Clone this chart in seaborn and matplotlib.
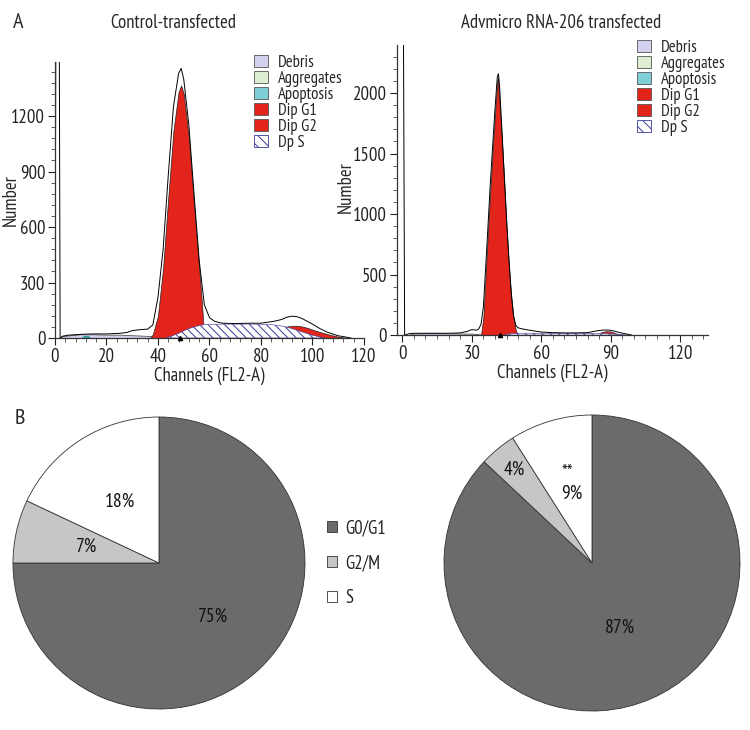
import matplotlib
matplotlib.use("Agg")
import matplotlib.pyplot as plt
import numpy as np
import seaborn as sns
from matplotlib.patches import Patch
from matplotlib.ticker import MultipleLocator

# ---- flow cytometry histograms ----
# control-transfected
ctrl_ch = [0, 1, 2, 3, 5, 10, 15, 20, 25, 28, 30, 33, 36, 38, 40, 42, 44, 46, 48, 49, 50, 52, 54,
           56, 58, 60, 62, 65, 70, 75, 80, 85, 88, 90, 92, 94, 96, 98, 100, 103, 106, 110, 113, 115]
ctrl_total = [0, 5000, 0, 10, 15, 20, 22, 22, 25, 30, 40, 45, 48, 70, 220, 480, 880, 1250, 1430, 1458,
              1400, 1150, 780, 420, 180, 110, 90, 80, 78, 80, 80, 90, 100, 112, 118, 115, 105, 90, 75,
              50, 30, 12, 5, 0]
ctrl_debris_ch = [2, 3, 6, 10, 15, 20, 25, 30, 35, 40, 45, 50]
ctrl_debris = [0, 10, 15, 20, 20, 18, 18, 15, 12, 8, 3, 0]
ctrl_apo_ch = [10, 11, 12, 13, 14]
ctrl_apo = [0, 12, 15, 12, 0]
ctrl_g1_ch = [37, 38, 40, 42, 44, 46, 48, 49, 50, 52, 54, 56, 57, 58]
ctrl_g1 = [0, 20, 120, 380, 760, 1120, 1330, 1366, 1320, 1080, 720, 380, 200, 0]
ctrl_g2_ch = [88, 89.5, 90, 92, 94, 96, 98, 100, 103, 106, 109, 112, 114]
ctrl_g2 = [0, 60, 62, 66, 66, 62, 55, 45, 32, 20, 10, 3, 0]
ctrl_s_ch = [43, 45, 48, 51, 54, 57, 60, 65, 70, 75, 80, 84, 88, 91, 94, 97, 100, 103, 105]
ctrl_s = [0, 8, 25, 45, 60, 70, 74, 75, 75, 75, 74, 72, 65, 55, 42, 28, 15, 5, 0]
ctrl_g1_mean = 48.5

# Advmicro RNA-206 transfected
mir_ch = [0, 1, 3, 5, 10, 15, 20, 25, 28, 30, 32, 33, 34, 35, 36, 37, 38, 39, 40, 41, 41.5, 42, 43,
          44, 45, 46, 47, 48, 49, 50, 52, 55, 60, 65, 70, 75, 80, 84, 86, 88, 90, 92, 94, 96, 98, 99]
mir_total = [5000, 0, 12, 15, 15, 15, 15, 18, 30, 45, 40, 50, 90, 230, 560, 900, 1250, 1560, 1860,
             2130, 2160, 2060, 1700, 1320, 960, 640, 350, 160, 80, 60, 50, 40, 25, 20, 18, 18, 20,
             35, 40, 42, 40, 30, 20, 12, 5, 0]
mir_debris_ch = [3, 4, 10, 20, 30, 34, 38]
mir_debris = [0, 12, 15, 14, 12, 5, 0]
mir_g1_ch = [34, 35, 36, 37, 38, 39, 40, 41, 41.3, 42, 43, 44, 45, 46, 47, 48, 49, 50]
mir_g1 = [0, 150, 500, 860, 1200, 1520, 1820, 2100, 2130, 1920, 1620, 1280, 900, 580, 330, 150, 40, 0]
mir_g2_ch = [84, 86, 88, 90, 92, 94]
mir_g2 = [0, 25, 32, 30, 15, 0]
mir_s_ch = [44, 46, 50, 60, 70, 80, 88, 94, 97]
mir_s = [0, 10, 15, 15, 15, 14, 12, 6, 0]
mir_g1_mean = 42

legend_names = ["Debris", "Aggregates", "Apoptosis", "Dip G1", "Dip G2", "Dp S"]

# ---- pie charts ----
phases = ["G0/G1", "G2/M", "S"]
ctrl_pct = [75, 7, 18]
mir_pct = [87, 4, 9]
pie_colors = ["#6b6b6b", "#c6c6c6", "#ffffff"]

sns.set_theme(style="ticks")
plt.rcParams["font.family"] = ["PT Sans Narrow", "Roboto Condensed", "Fira Sans Condensed",
                               "Archivo Narrow", "Liberation Sans Narrow", "DejaVu Sans"]
plt.rcParams["hatch.linewidth"] = 0.7

RED = "#e3241b"
DEBRIS = "#d2d2ee"
AGGR = "#ddeed2"
APO = "#7fcfd6"
HATCH = "#3a3a9a"

fig = plt.figure(figsize=(7.5, 7.3), dpi=100)


def draw_hist(ax, ch, total, deb_ch, deb, g1_ch, g1, g2_ch, g2, s_ch, s, mean, apo_ch=None, apo=None):
    ax.fill_between(deb_ch, deb, facecolor=DEBRIS, edgecolor="#555555", lw=0.6)
    if apo_ch is not None:
        ax.fill_between(apo_ch, apo, color="#2a9a9a", lw=0)
    ax.fill_between(g1_ch, g1, color=RED, edgecolor="#222222", lw=0.5)
    ax.fill_between(g2_ch, g2, color=RED, edgecolor="#222222", lw=0.5)
    ax.fill_between(s_ch, s, facecolor="white", edgecolor=HATCH, hatch="\\\\\\\\", lw=0.4)
    sns.lineplot(x=ch, y=total, ax=ax, color="black", lw=0.7, estimator=None, sort=False)
    ax.plot([mean], [0], marker="^", color="black", ms=3, clip_on=False, zorder=5)
    sns.despine(ax=ax)
    for sp in ["left", "bottom"]:
        ax.spines[sp].set_color("#333333")
        ax.spines[sp].set_linewidth(0.9)
    ax.tick_params(which="major", length=5, width=0.8, labelsize=13.5, pad=2, colors="#222222")
    ax.tick_params(which="minor", length=3, width=0.6, colors="#444444")
    handles = [
        Patch(facecolor=DEBRIS, edgecolor="#555555", lw=0.6),
        Patch(facecolor=AGGR, edgecolor="#555555", lw=0.6),
        Patch(facecolor=APO, edgecolor="#555555", lw=0.6),
        Patch(facecolor=RED, edgecolor="#555555", lw=0.6),
        Patch(facecolor=RED, edgecolor="#555555", lw=0.6),
        Patch(facecolor="white", edgecolor=HATCH, hatch="\\\\\\", lw=0.6),
    ]
    return handles


leg_kw = dict(bbox_transform=fig.transFigure, loc="upper left", frameon=False, fontsize=12,
              handlelength=0.85, handleheight=0.75, handletextpad=0.6, labelspacing=0.0,
              borderpad=0, borderaxespad=0)

# left histogram
ax1 = fig.add_axes([0.0733, 0.537, 0.412, 0.378])
h = draw_hist(ax1, ctrl_ch, ctrl_total, ctrl_debris_ch, ctrl_debris, ctrl_g1_ch, ctrl_g1,
              ctrl_g2_ch, ctrl_g2, ctrl_s_ch, ctrl_s, ctrl_g1_mean, ctrl_apo_ch, ctrl_apo)
ax1.set_xlim(0, 120)
ax1.set_ylim(0, 1492)
ax1.xaxis.set_major_locator(MultipleLocator(20))
ax1.xaxis.set_minor_locator(MultipleLocator(4))
ax1.yaxis.set_major_locator(MultipleLocator(300))
ax1.yaxis.set_minor_locator(MultipleLocator(60))
ax1.set_xlabel("Channels (FL2-A)", fontsize=13.5, labelpad=1)
ax1.set_ylabel("Number", fontsize=13.5)
ax1.yaxis.set_label_coords(-0.115, 0.5)
ax1.legend(h, legend_names, bbox_to_anchor=(254 / 750, 1 - 55 / 730), **leg_kw)

# right histogram
ax2 = fig.add_axes([0.529, 0.541, 0.415, 0.397])
h = draw_hist(ax2, mir_ch, mir_total, mir_debris_ch, mir_debris, mir_g1_ch, mir_g1,
              mir_g2_ch, mir_g2, mir_s_ch, mir_s, mir_g1_mean)
ax2.set_xlim(-2.4, 132)
ax2.set_ylim(0, 2395)
ax2.xaxis.set_major_locator(MultipleLocator(30))
ax2.xaxis.set_minor_locator(MultipleLocator(5))
ax2.yaxis.set_major_locator(MultipleLocator(500))
ax2.yaxis.set_minor_locator(MultipleLocator(100))
ax2.set_xlabel("Channels (FL2-A)", fontsize=13.5, labelpad=1)
ax2.set_ylabel("Number", fontsize=13.5)
ax2.yaxis.set_label_coords(-0.134, 0.51)
ax2.legend(h, legend_names, bbox_to_anchor=(637 / 750, 1 - 40 / 730), **leg_kw)

fig.text(173 / 750, 1 - 23 / 730, "Control-transfected", fontsize=13.5, ha="center", va="center")
fig.text(561 / 750, 1 - 23 / 730, "Advmicro RNA-206 transfected", fontsize=13.5, ha="center", va="center")
fig.text(18 / 750, 1 - 22 / 730, "A", fontsize=16, ha="center", va="center")
fig.text(20 / 750, 1 - 418 / 730, "B", fontsize=16, ha="center", va="center")


def draw_pie(ax, pct, dists):
    wedges, _ = ax.pie(pct, colors=pie_colors, startangle=90, counterclock=False,
                       wedgeprops=dict(edgecolor="#333333", linewidth=0.6))
    ax.set_xlim(-1.05, 1.05)
    ax.set_ylim(-1.05, 1.05)
    labels = []
    for w, p, d in zip(wedges, pct, dists):
        mid = np.deg2rad((w.theta1 + w.theta2) / 2)
        t = ax.text(d * np.cos(mid), d * np.sin(mid), f"{p}%", ha="center", va="center",
                    fontsize=14, color="#111111")
        labels.append(t)
    return wedges, labels


# left pie: r = 146 px, centre (159, 563)
axp1 = fig.add_axes([5.7 / 750, 1 - 716.3 / 730, 306.6 / 750, 306.6 / 730])
wedges, _ = draw_pie(axp1, ctrl_pct, [0.52, 0.51, 0.5])

# right pie: r = 148 px, centre (592, 563)
axp2 = fig.add_axes([436.6 / 750, 1 - 718.4 / 730, 310.8 / 750, 310.8 / 730])
_, labs = draw_pie(axp2, mir_pct, [0.48, 0.82, 0.49])
axp2.annotate("**", xy=labs[2].get_position(), xytext=(-3, 15), textcoords="offset points",
              ha="center", va="center", fontsize=14, color="#222222")

fig.legend(wedges, phases, loc="center left", bbox_to_anchor=(327 / 750, 1 - 563 / 730),
           frameon=False, fontsize=13.5, handlelength=0.55, handleheight=0.55, handletextpad=0.45,
           labelspacing=0.9, borderpad=0, borderaxespad=0)

fig.savefig("out.png", dpi=100)
